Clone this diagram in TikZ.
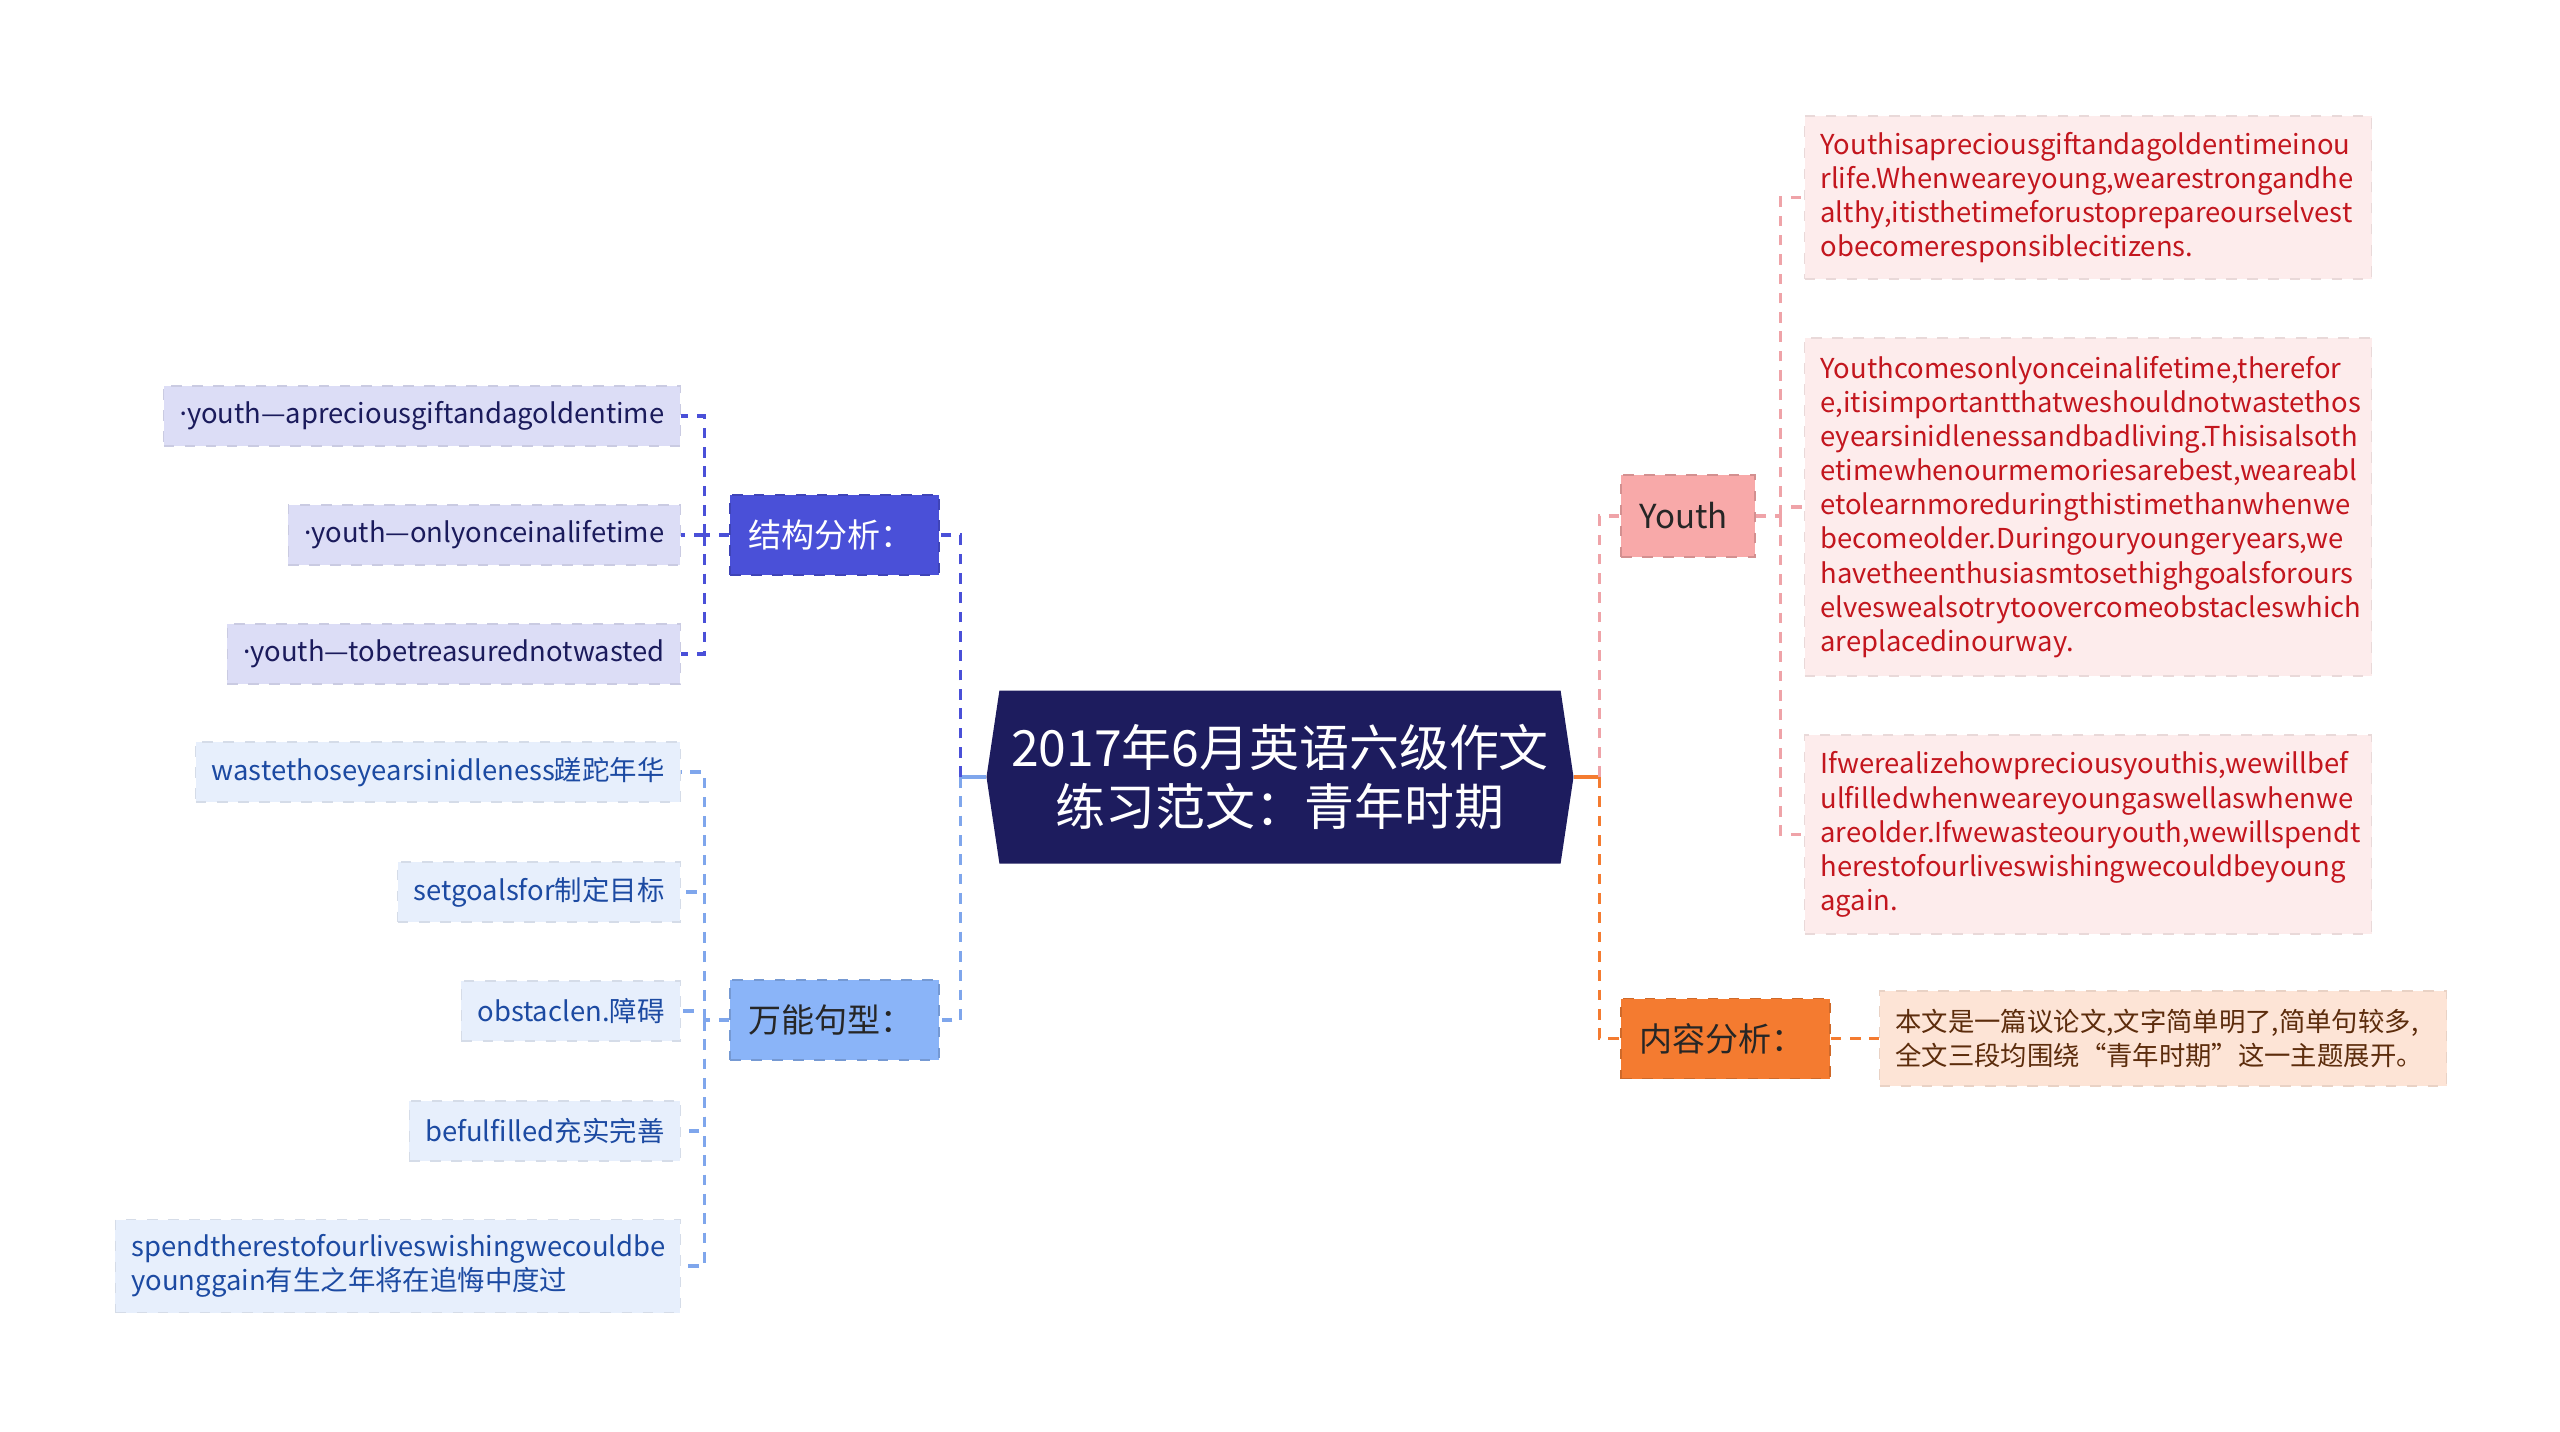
\documentclass[tikz,border=0pt]{standalone}
\usepackage{fontspec}
\setmainfont{Noto Sans CJK SC}
\newfontfamily\dotfont{Noto Sans}
\usetikzlibrary{shapes.symbols}
\definecolor{titlebg}{HTML}{1D1C5E}
\definecolor{jgblue}{HTML}{4A50D8}
\definecolor{jgitem}{HTML}{DCDDF6}
\definecolor{jgtext}{HTML}{1B1B5C}
\definecolor{wnblue}{HTML}{8AB4F8}
\definecolor{wnline}{HTML}{7FA6EC}
\definecolor{wnitem}{HTML}{E7EFFC}
\definecolor{wntext}{HTML}{1C4AA2}
\definecolor{ypink}{HTML}{F8A9A9}
\definecolor{yline}{HTML}{EFA3A8}
\definecolor{yitem}{HTML}{FDECEC}
\definecolor{ytext}{HTML}{C3161E}
\definecolor{nrorange}{HTML}{F47B30}
\definecolor{nritem}{HTML}{FDE4D6}
\definecolor{nrtext}{HTML}{5C2C0C}
\newcommand{\mdot}{{\dotfont ·}}

\begin{document}
\begin{tikzpicture}[x=1cm, y=-1cm,
  link/.style={line width=0.9pt, dash pattern=on 3pt off 2.5pt},
  leaf/.style={inner xsep=0.16cm, inner ysep=0pt, minimum height=0.6cm,
    draw=#1!92!black, dashed, line width=0.3pt, fill=#1},
  branch/.style={minimum width=2.09cm, minimum height=0.8cm, inner xsep=0.18cm,
    text width=1.73cm, align=left, draw=#1!85!black, dashed, line width=0.4pt,
    fill=#1, font=\fontsize{9.4}{11}\selectfont},
  small/.style={font=\fontsize{7.8}{9.7}\selectfont}]
  \useasboundingbox (0,0) rectangle (25.6,14.31);
  % title
  \node [signal, signal to=west and east, signal pointer angle=163,
    fill=titlebg, text=white, align=center, minimum width=5.6cm,
    minimum height=1.73cm, font=\fontsize{14.2}{17}\selectfont]
    (title) at (12.80,7.77) {2017年6月英语六级作文\\练习范文：青年时期};
  % left branches
  \node [branch=jgblue, text=white] (jiegou) at (8.345,5.35) {结构分析：};
  \node [branch=wnblue, text=black!85] (wanneng) at (8.345,10.20) {万能句型：};
  \foreach \n/\y/\t in {l1/4.16/{\mdot youth—apreciousgiftandagoldentime},
      l2/5.35/{\mdot youth—onlyonceinalifetime},
      l3/6.54/{\mdot youth—tobetreasurednotwasted}}
    \node [leaf=jgitem, small, text=jgtext, anchor=east] (\n) at (6.81,\y) {\t};
  \foreach \n/\y/\t in {w1/7.72/{wastethoseyearsinidleness蹉跎年华},
      w2/8.92/{setgoalsfor制定目标},
      w3/10.11/{obstaclen.障碍},
      w4/11.31/{befulfilled充实完善}}
    \node [leaf=wnitem, small, text=wntext, anchor=east] (\n) at (6.81,\y) {\t};
  \node [leaf=wnitem, small, text=wntext, anchor=east, minimum height=0.93cm,
    text width=5.33cm, align=left] (w5) at (6.81,12.66)
    {spendtherestofourliveswishingwecouldbe\\younggain有生之年将在追悔中度过};
  % right branches
  \node [branch=ypink, text=black!85, minimum width=1.34cm, text width=0.98cm,
    minimum height=0.82cm] (youth) at (16.88,5.16) {Youth};
  \node [branch=nrorange, text=black!85] (neirong) at (17.255,10.385) {内容分析：};
  \foreach \n/\y/\h/\t in {
      y1/1.975/1.63/{Youthisapreciousgiftandagoldentimeinou\\rlife.Whenweareyoung,wearestrongandhe\\althy,itisthetimeforustoprepareourselvest\\obecomeresponsiblecitizens.},
      y2/5.07/3.38/{Youthcomesonlyonceinalifetime,therefor\\e,itisimportantthatweshouldnotwastethos\\eyearsinidlenessandbadliving.Thisisalsoth\\etimewhenourmemoriesarebest,weareabl\\etolearnmoreduringthistimethanwhenwe\\becomeolder.Duringouryoungeryears,we\\havetheenthusiasmtosethighgoalsforours\\elveswealsotrytoovercomeobstacleswhich\\areplacedinourway.},
      y3/8.345/1.99/{Ifwerealizehowpreciousyouthis,wewillbef\\ulfilledwhenweareyoungaswellaswhenwe\\areolder.Ifwewasteouryouth,wewillspendt\\herestofourliveswishingwecouldbeyoung\\again.}}
    \node [leaf=yitem, small, text=ytext, anchor=west, minimum height=\h cm,
      text width=5.35cm, align=left] (\n) at (18.04,\y) {\t};
  \node [leaf=nritem, text=nrtext, anchor=west, minimum height=0.95cm,
    text width=5.35cm, align=left, font=\fontsize{7.5}{9.7}\selectfont]
    (summary) at (18.79,10.385)
    {本文是一篇议论文,文字简单明了,简单句较多,\\全文三段均围绕“青年时期”这一主题展开。};
  % connectors, left
  \draw [line width=0.9pt, wnline] (title.west) -- ++(-0.25,0) coordinate (lt);
  \draw [link, jgblue] (lt) |- (jiegou.east);
  \draw [link, wnline] (lt) |- (wanneng.east);
  \draw [link, jgblue] (jiegou.west) -- ++(-0.25,0) coordinate (jt);
  \foreach \n in {l1,l2,l3}
    \draw [link, jgblue] (jt) |- (\n.east);
  \draw [link, wnline] (wanneng.west) -- ++(-0.25,0) coordinate (wt);
  \foreach \n in {w1,w2,w3,w4,w5}
    \draw [link, wnline] (wt) |- (\n.east);
  % connectors, right
  \draw [line width=0.9pt, nrorange] (title.east) -- ++(0.25,0) coordinate (rt);
  \draw [link, yline] (rt) |- (youth.west);
  \draw [link, nrorange] (rt) |- (neirong.west);
  \draw [link, yline] (youth.east) -- ++(0.25,0) coordinate (yt);
  \foreach \n in {y1,y2,y3}
    \draw [link, yline] (yt) |- (\n.west);
  \draw [link, nrorange] (neirong.east) -- (summary.west);
\end{tikzpicture}
\end{document}
